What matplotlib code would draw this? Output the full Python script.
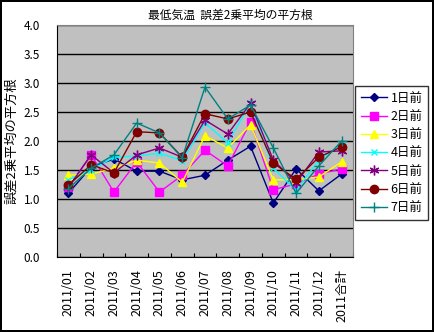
import numpy as np
import matplotlib.pyplot as plt

plt.rcParams['font.family'] = ['Noto Sans CJK JP', 'DejaVu Sans']

months = ['2011/01', '2011/02', '2011/03', '2011/04', '2011/05', '2011/06', '2011/07',
          '2011/08', '2011/09', '2011/10', '2011/11', '2011/12', '2011合計']

day1 = [1.10, 1.55, 1.69, 1.48, 1.48, 1.33, 1.41, 1.67, 1.91, 0.93, 1.52, 1.14, 1.43]
day2 = [1.21, 1.76, 1.12, 1.64, 1.12, 1.41, 1.84, 1.57, 2.33, 1.16, 1.26, 1.43, 1.52]
day3 = [1.41, 1.43, 1.53, 1.67, 1.62, 1.29, 2.09, 1.88, 2.28, 1.33, 1.33, 1.38, 1.64]
day4 = [1.33, 1.50, 1.72, 1.74, 1.79, 1.66, 2.31, 1.97, 2.65, 1.53, 1.15, 1.67, 1.95]
day5 = [1.20, 1.76, 1.45, 1.76, 1.88, 1.72, 2.36, 2.12, 2.65, 1.67, 1.28, 1.81, 1.83]
day6 = [1.24, 1.59, 1.45, 2.16, 2.14, 1.72, 2.47, 2.38, 2.50, 1.62, 1.34, 1.72, 1.90]
day7 = [1.18, 1.53, 1.76, 2.31, 2.14, 1.71, 2.93, 2.38, 2.62, 1.88, 1.10, 1.57, 2.00]

series = [
    ('1日前', day1, '#000080', 'D', 4.5),
    ('2日前', day2, '#FF00FF', 's', 6),
    ('3日前', day3, '#FFFF00', '^', 6),
    ('4日前', day4, '#00FFFF', 'x', 5),
    ('5日前', day5, '#800080', (6, 2, 0), 7),
    ('6日前', day6, '#800000', 'o', 6),
    ('7日前', day7, '#008080', '+', 7),
]

fig = plt.figure(figsize=(4.34, 3.32), dpi=100, edgecolor='black', linewidth=1.5)
ax = fig.add_axes([57/434, 75/332, 296/434, 232/332])
ax.set_facecolor('#C0C0C0')

x = np.arange(len(months))
for name, vals, c, m, ms in series:
    ax.plot(x, vals, color=c, marker=m, markersize=ms, linewidth=1,
            markeredgecolor=c, markerfacecolor=c, label=name)

ax.set_xlim(-0.5, len(months) - 0.5)
ax.set_ylim(0, 4.0)
ax.set_yticks(np.arange(0, 4.01, 0.5))
ax.set_yticklabels([f'{v:.1f}' for v in np.arange(0, 4.01, 0.5)], fontsize=8.5)
ax.yaxis.grid(True, color='black', linewidth=1)
ax.set_axisbelow(True)
ax.tick_params(axis='y', length=0, pad=12)

ax.set_xticks(np.arange(-0.5, len(months), 1.0))
ax.set_xticklabels([])
ax.set_xticks(x, minor=True)
ax.set_xticklabels(months, minor=True, rotation=90, fontsize=9)
ax.tick_params(axis='x', which='major', direction='in', length=3, color='black')
ax.tick_params(axis='x', which='minor', length=0, pad=9)

for s in ['left', 'bottom']:
    ax.spines[s].set_color('black')
for s in ['top', 'right']:
    ax.spines[s].set_color('#808080')

ax.set_ylabel('誤差2乗平均の平方根', fontsize=9.5, labelpad=4)
fig.text(230/434, 1 - 15/332, '最低気温  誤差2乗平均の平方根', ha='center', va='center', fontsize=8.5)

leg = fig.legend(loc='upper left', bbox_to_anchor=(355/434, 1 - 86/332), fontsize=9,
                 frameon=True, fancybox=False, edgecolor='black', borderpad=0.45,
                 borderaxespad=0, labelspacing=0.42, handlelength=2.1, handletextpad=0.3)
leg.get_frame().set_linewidth(1)

fig.savefig('out.png', dpi=100)
